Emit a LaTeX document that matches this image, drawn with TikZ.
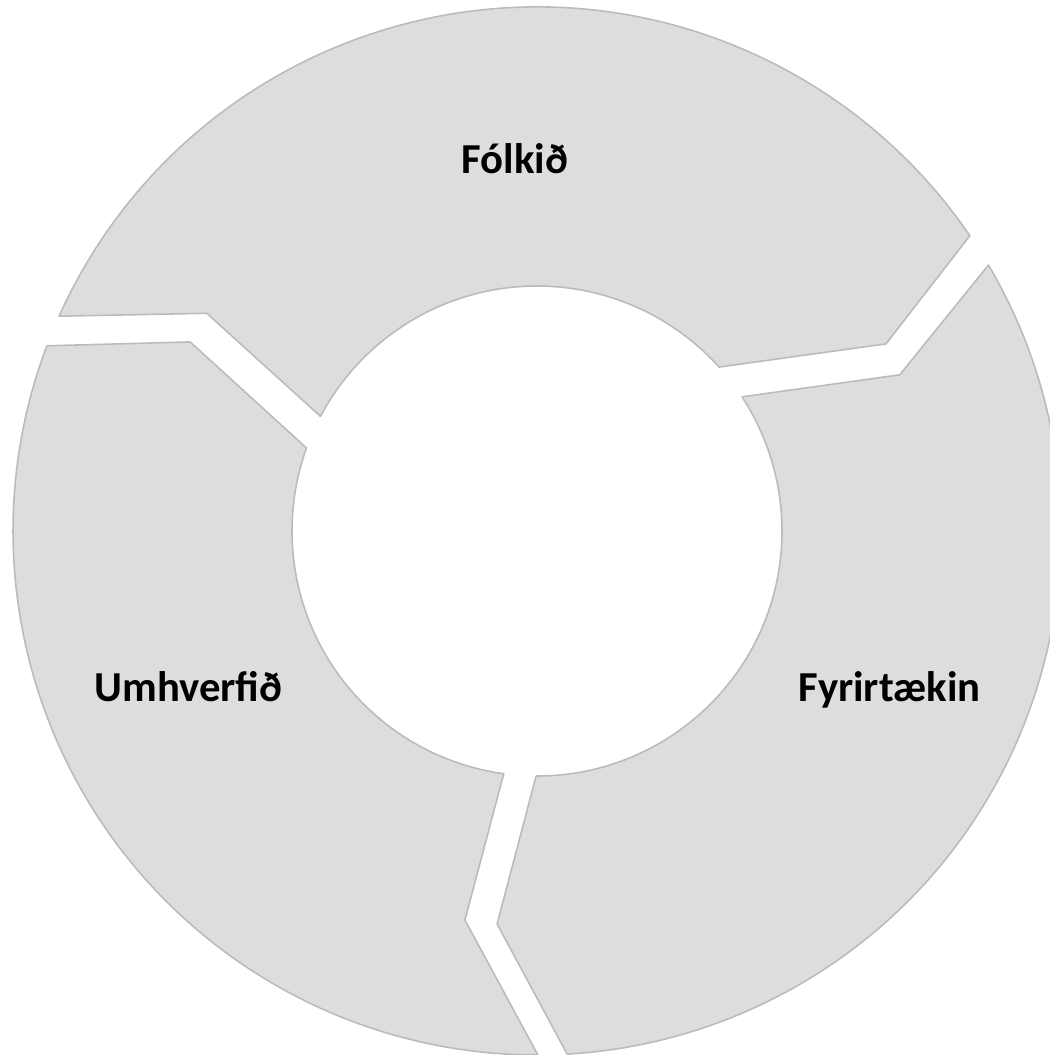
\documentclass[tikz,border=0pt]{standalone}
\usepackage{fontspec}
\setmainfont{Carlito}
\definecolor{ringfill}{HTML}{DDDDDD}
\definecolor{ringline}{HTML}{BBBBBB}

\begin{document}
\begin{tikzpicture}[x=0.02cm, y=0.02cm,
	segment/.style={draw=ringline, fill=ringfill, line width=0.9pt, line join=round},
	lbl/.style={anchor=base, font=\fontsize{24.3}{28}\selectfont\bfseries, text=black}]
	\useasboundingbox (0,0) rectangle (1050,-1055);

	\begin{scope}[shift={(537,-531)}]
		% top part
		\path[segment] (155.8:524) arc[start angle=155.8, end angle=34.3, radius=524]
			-- (28.2:396) -- (42:245) arc[start angle=42, end angle=152.1, radius=245]
			-- (146.6:395.5) -- cycle;
		% right part
		\path[segment] (30.5:524) arc[start angle=30.5, end angle=-86.7, radius=524]
			-- (-95.8:395) -- (-90.2:245) arc[start angle=-90.2, end angle=33.2, radius=245]
			-- (23.3:395) -- cycle;
		% left part
		\path[segment] (270.1:524) arc[start angle=270.1, end angle=159.3, radius=524]
			-- (151.4:395) -- (160.2:245) arc[start angle=160.2, end angle=262.2, radius=245]
			-- (259.5:395.6) -- cycle;
	\end{scope}

	\node[lbl] (folk) at (515,-173) {Fólkið};
	\node[lbl] (fyrirt) at (889.5,-701) {Fyrirtækin};
	\node[lbl] (umhv) at (188.5,-701) {Umhverfið};

\end{tikzpicture}
\end{document}
